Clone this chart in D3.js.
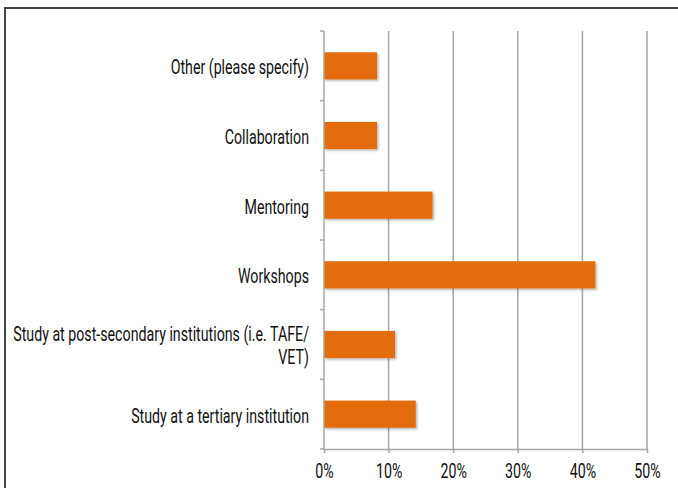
<!DOCTYPE html>
<html>
<head>
<meta charset="utf-8">
<script src="https://cdn.jsdelivr.net/npm/d3@7"></script>
<style>
  html, body { margin: 0; padding: 0; background: #fff; }
  svg { display: block; }
  text { font-family: Roboto, "DejaVu Sans Condensed", sans-serif; fill: #111; }
</style>
</head>
<body>
<svg id="chart" width="678" height="488"></svg>
<script>
// Professional learning types, top to bottom
const categories = [
  "Other (please specify)",
  "Collaboration",
  "Mentoring",
  "Workshops",
  "Study at post-secondary institutions (i.e. TAFE/ VET)",
  "Study at a tertiary institution"
];
const labelLines = [
  ["Other (please specify)"],
  ["Collaboration"],
  ["Mentoring"],
  ["Workshops"],
  ["Study at post-secondary institutions (i.e. TAFE/", "VET)"],
  ["Study at a tertiary institution"]
];
const values = [0.082, 0.082, 0.168, 0.42, 0.11, 0.142];
const xTicks = [0, 0.1, 0.2, 0.3, 0.4, 0.5];

const svg = d3.select("#chart");
const W = 678, H = 488;
const margin = { left: 324, right: 31, top: 31, bottom: 39 };
const labelRight = 309;
const labelMaxWidth = 296;
const fontSize = 19.5;

// Frame lines (top and left)
svg.append("line").attr("x1", 4).attr("x2", W).attr("y1", 8).attr("y2", 8)
  .attr("stroke", "#444").attr("stroke-width", 2);
svg.append("line").attr("x1", 5).attr("x2", 5).attr("y1", 8).attr("y2", H)
  .attr("stroke", "#444").attr("stroke-width", 2);

const x = d3.scaleLinear().domain([0, 0.5]).range([margin.left, W - margin.right]);
const y = d3.scaleBand().domain(categories).range([margin.top, H - margin.bottom]).paddingInner(0.61).paddingOuter(0.305);
const band = d3.scaleBand().domain(categories).range([margin.top, H - margin.bottom]);

const defs = svg.append("defs");
const f = defs.append("filter").attr("id", "shadow").attr("x", "-5%").attr("y", "-20%").attr("width", "115%").attr("height", "150%");
f.append("feDropShadow").attr("dx", 1.5).attr("dy", 1.5).attr("stdDeviation", 1).attr("flood-color", "#000").attr("flood-opacity", 0.3);

// Vertical gridlines
svg.append("g").selectAll("line").data(xTicks.slice(1)).join("line")
  .attr("x1", d => x(d)).attr("x2", d => x(d))
  .attr("y1", margin.top).attr("y2", H - margin.bottom)
  .attr("stroke", "#a6a6a6").attr("stroke-width", 1.5);

// Bars
svg.append("g").selectAll("rect").data(categories).join("rect")
  .attr("x", x(0))
  .attr("y", d => y(d))
  .attr("width", (d, i) => x(values[i]) - x(0))
  .attr("height", y.bandwidth())
  .attr("fill", "#E36C0A")
  .attr("filter", "url(#shadow)");

// Category labels, in a horizontally condensed group
const lineH = 23;
const lblG = svg.append("g");
const lbl = lblG.selectAll("text").data(categories).join("text")
  .attr("text-anchor", "end")
  .attr("font-size", fontSize)
  .attr("x", 0)
  .attr("y", d => y(d) + y.bandwidth() / 2);
lbl.each(function(d, i) {
  const lines = labelLines[i];
  const t = d3.select(this);
  const off = -(lines.length - 1) * lineH / 2;
  lines.forEach((ln, j) => {
    t.append("tspan").attr("x", 0).attr("dy", j === 0 ? (off + 8.5) : lineH).text(ln);
  });
});
// widest single line sets the condensing factor
let widest = 0;
lblG.selectAll("tspan").each(function() { widest = Math.max(widest, this.getComputedTextLength()); });
const k = Math.min(1, labelMaxWidth / widest);
lblG.attr("transform", `translate(${labelRight},0) scale(${k},1)`);

// X axis
const xAxis = d3.axisBottom(x).tickValues(xTicks).tickFormat(d3.format(".0%")).tickSize(4).tickSizeOuter(0);
const gx = svg.append("g").attr("transform", `translate(0,${H - margin.bottom})`).call(xAxis);
gx.select(".domain").attr("stroke", "#a6a6a6").attr("stroke-width", 1.5);
gx.selectAll(".tick line").attr("stroke", "#a6a6a6").attr("stroke-width", 1.5);
gx.selectAll(".tick text")
  .attr("font-size", fontSize).attr("y", 0).attr("dy", 0).attr("fill", "#111")
  .attr("transform", `translate(0,29) scale(${k},1)`)
  .style("font-family", 'Roboto, "DejaVu Sans Condensed", sans-serif');

// Y axis line and category boundary ticks
svg.append("line").attr("x1", x(0)).attr("x2", x(0)).attr("y1", margin.top).attr("y2", H - margin.bottom)
  .attr("stroke", "#a6a6a6").attr("stroke-width", 1.5);
const bounds = categories.map(c => band(c)).concat([H - margin.bottom]);
svg.append("g").selectAll("line").data(bounds).join("line")
  .attr("x1", x(0) - 4).attr("x2", x(0))
  .attr("y1", d => d).attr("y2", d => d)
  .attr("stroke", "#a6a6a6").attr("stroke-width", 1.5);
</script>
</body>
</html>
